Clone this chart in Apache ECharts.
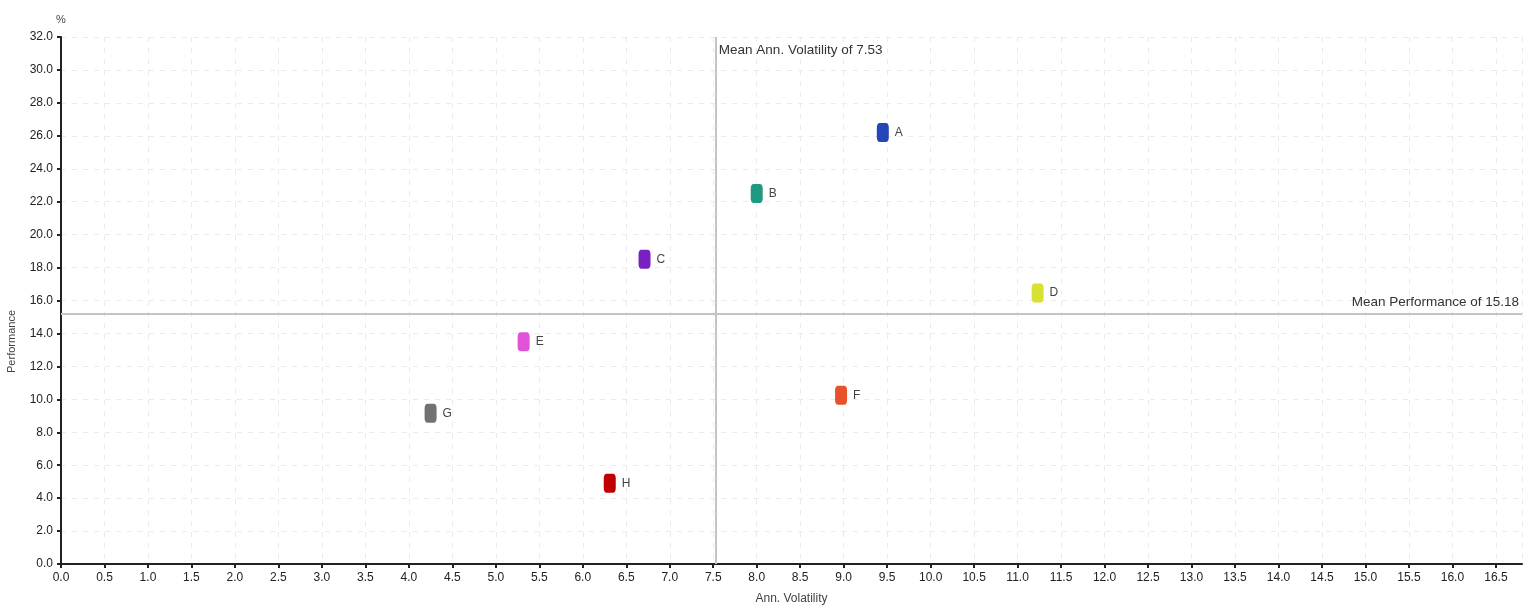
<!DOCTYPE html>
<html>
<head>
<meta charset="utf-8">
<script src="https://cdn.jsdelivr.net/npm/echarts@6/dist/echarts.min.js"></script>
<style>
html,body{margin:0;padding:0;background:#fff;}
#chart{width:1525px;height:605px;}
</style>
</head>
<body>
<div id="chart"></div>
<script>
const names = ['A','B','C','D','E','F','G','H'];
const volatility = [9.45, 8.0, 6.71, 11.23, 5.32, 8.97, 4.25, 6.31];
const performance = [26.2, 22.5, 18.5, 16.45, 13.5, 10.25, 9.15, 4.9];
const colors = ['#2446b8','#1f9a80','#7a20c0','#d8e032','#e052d8','#e8522a','#727272','#c00000'];
const meanVol = 7.53;
const meanPerf = 15.18;
const xMin = 0, xMax = 16.8, xStep = 0.5;
const yMin = 0, yMax = 32, yStep = 2;

const FONT = "'Liberation Sans Narrow','Liberation Sans',Arial,sans-serif";
const chart = echarts.init(document.getElementById('chart'));

const option = {
  animation: false,
  backgroundColor: '#ffffff',
  grid: {left: 61, right: 3, top: 37, bottom: 41, containLabel: false, outerBoundsMode: 'none'},
  xAxis: {
    type: 'value', min: xMin, max: xMax, interval: xStep,
    name: 'Ann. Volatility', nameLocation: 'middle', nameGap: 29,
    nameTextStyle: {fontFamily: FONT, fontSize: 12, color: '#444'},
    axisLine: {show: true, onZero: false, lineStyle: {color: '#222', width: 2}},
    axisTick: {show: true, length: 4, lineStyle: {color: '#222', width: 2}},
    axisLabel: {fontFamily: FONT, fontSize: 12, color: '#222', margin: 8,
      showMaxLabel: false, formatter: v => v.toFixed(1)},
    splitLine: {show: true, lineStyle: {color: '#ebebeb', type: [5, 6], width: 1}}
  },
  yAxis: {
    type: 'value', min: yMin, max: yMax, interval: yStep,
    name: '%', nameLocation: 'end', nameGap: 12,
    nameTextStyle: {fontFamily: FONT, fontSize: 11, color: '#444', align: 'center'},
    axisLine: {show: true, onZero: false, lineStyle: {color: '#222', width: 2}},
    axisTick: {show: true, length: 4, lineStyle: {color: '#222', width: 2}},
    axisLabel: {fontFamily: FONT, fontSize: 12, color: '#222', margin: 8,
      formatter: v => v.toFixed(1)},
    splitLine: {show: true, lineStyle: {color: '#ebebeb', type: [5, 6], width: 1}}
  },
  series: [{
    type: 'scatter',
    symbol: 'roundRect',
    symbolSize: [12, 19],
    data: names.map((n, i) => ({
      name: n, value: [volatility[i], performance[i]],
      itemStyle: {color: colors[i], opacity: 1}
    })),
    label: {
      show: true, position: 'right', distance: 6,
      formatter: p => p.name,
      fontFamily: FONT, fontSize: 12, color: '#444'
    },
    markLine: {
      silent: true, symbol: 'none', animation: false,
      label: {show: false},
      lineStyle: {color: '#c4c4c4', width: 2, type: 'solid'},
      data: [
        {xAxis: meanVol},
        {yAxis: meanPerf}
      ]
    },
    z: 5
  }]
};
chart.setOption(option);

const pv = chart.convertToPixel({gridIndex: 0}, [meanVol, yMax]);
const ph = chart.convertToPixel({gridIndex: 0}, [xMax, meanPerf]);
chart.setOption({
  graphic: [
    {type: 'text', left: pv[0] + 3, top: pv[1] + 6,
      style: {text: 'Mean Ann. Volatility of ' + meanVol.toFixed(2), font: "13.5px " + FONT, fill: '#333'}},
    {type: 'text', right: 1525 - ph[0] + 3, top: ph[1] - 19,
      style: {text: 'Mean Performance of ' + meanPerf.toFixed(2), font: "13.5px " + FONT, fill: '#333'}},
    {type: 'text', left: 6, top: 310, rotation: Math.PI / 2, originX: 0, originY: 0,
      style: {text: 'Performance', font: "11px " + FONT, fill: '#444', align: 'center', verticalAlign: 'middle', x: 0, y: 0}}
  ]
});
</script>
</body>
</html>
